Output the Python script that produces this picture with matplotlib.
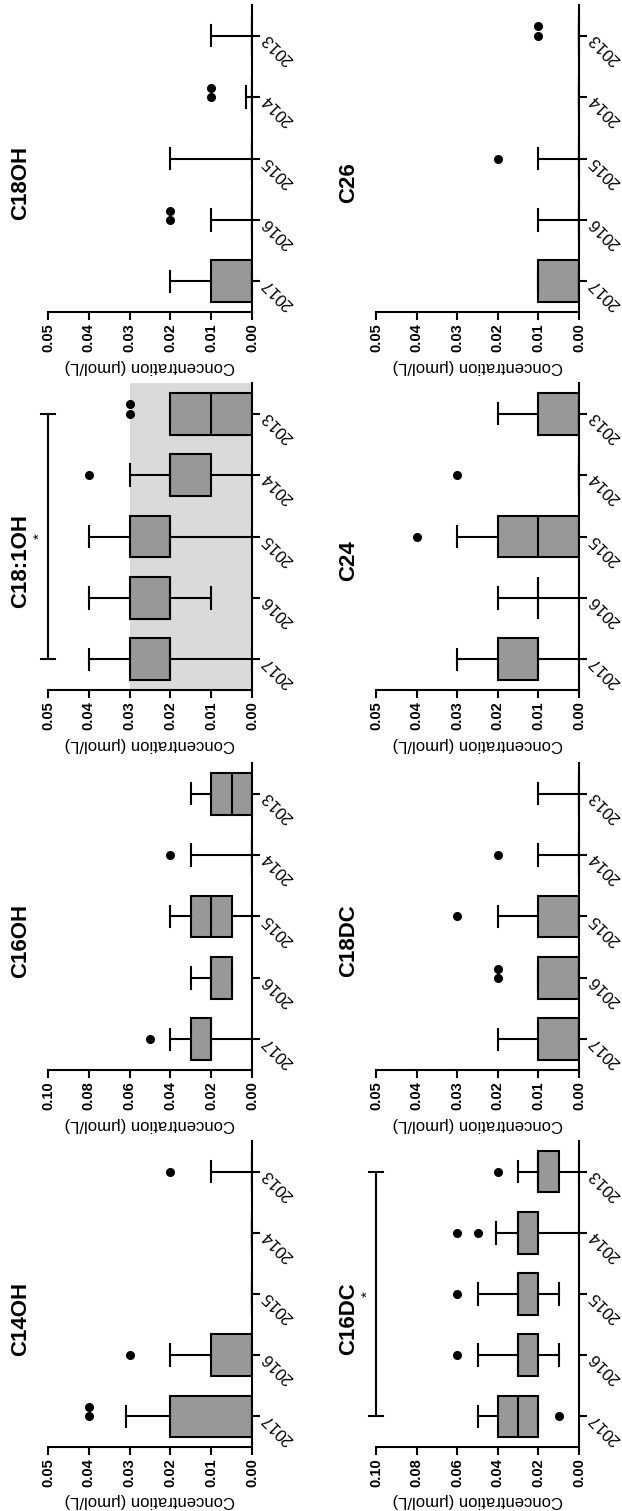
import matplotlib
matplotlib.use("Agg")
import matplotlib.pyplot as plt
from matplotlib.ticker import FormatStrFormatter

plt.rcParams["font.family"] = ["Liberation Sans", "DejaVu Sans"]
plt.rcParams["font.weight"] = "bold"

years = ["2017", "2016", "2015", "2014", "2013"]
ylabel = "Concentration (μmol/L)"

# box stats per year: whislo, q1, median, q3, whishi
c14oh = [[0, 0, 0, 0.02, 0.031], [0, 0, 0, 0.01, 0.02], [0, 0, 0, 0, 0],
         [0, 0, 0, 0, 0], [0, 0, 0, 0, 0.01]]
c14oh_out = [[0.04, 0.04], [0.03], [], [], [0.02]]

c16oh = [[0, 0.02, 0.02, 0.03, 0.04], [0.01, 0.01, 0.02, 0.02, 0.03],
         [0, 0.01, 0.02, 0.03, 0.04], [0, 0, 0, 0, 0.03], [0, 0, 0.01, 0.02, 0.03]]
c16oh_out = [[0.05], [], [], [0.04], []]

c181oh = [[0, 0.02, 0.02, 0.03, 0.04], [0.01, 0.02, 0.02, 0.03, 0.04],
          [0, 0.02, 0.02, 0.03, 0.04], [0, 0.01, 0.02, 0.02, 0.03], [0, 0, 0.01, 0.02, 0.02]]
c181oh_out = [[], [], [], [0.04], [0.03, 0.03]]

c18oh = [[0, 0, 0, 0.01, 0.02], [0, 0, 0, 0, 0.01], [0, 0, 0, 0, 0.02],
         [0, 0, 0, 0, 0.0015], [0, 0, 0, 0, 0.01]]
c18oh_out = [[], [0.02, 0.02], [], [0.01, 0.01], []]

c16dc = [[0.02, 0.02, 0.03, 0.04, 0.05], [0.01, 0.02, 0.03, 0.03, 0.05],
         [0.01, 0.02, 0.03, 0.03, 0.05], [0, 0.02, 0.03, 0.03, 0.041], [0, 0.01, 0.02, 0.02, 0.03]]
c16dc_out = [[0.01], [0.06], [0.06], [0.05, 0.06], [0.04]]

c18dc = [[0, 0, 0, 0.01, 0.02], [0, 0, 0, 0.01, 0.01], [0, 0, 0, 0.01, 0.02],
         [0, 0, 0, 0, 0.01], [0, 0, 0, 0, 0.01]]
c18dc_out = [[], [0.02, 0.02], [0.03], [0.02], []]

c24 = [[0, 0.01, 0.01, 0.02, 0.03], [0, 0.01, 0.01, 0.01, 0.02], [0, 0, 0.01, 0.02, 0.03],
       [0, 0, 0, 0, 0], [0, 0, 0, 0.01, 0.02]]
c24_out = [[], [], [0.04], [0.03], []]

c26 = [[0, 0, 0, 0.01, 0.01], [0, 0, 0, 0, 0.01], [0, 0, 0, 0, 0.01],
       [0, 0, 0, 0, 0], [0, 0, 0, 0, 0]]
c26_out = [[], [], [0.02], [], [0.01, 0.01]]

# reference range shading and significance bracket
c181oh_range = (0, 0.03)

BOX = "#97989a"
SHADE = "#d9dadc"
LW = 1.5

W, H = 622, 1511
col_x = [(48, 204), (376, 203)]
row_y = [(5, 307), (383, 307), (763, 307), (1141, 306)]


def make_ax(fig, col, row):
    x0, w = col_x[col]
    y0, h = row_y[row]
    return fig.add_axes([x0 / W, 1 - (y0 + h) / H, w / W, h / H])


def draw_panel(ax, name, stats, outliers, top, shade=None, sig=False):
    pos = list(range(1, len(years) + 1))
    if shade is not None:
        ax.axvspan(shade[0], shade[1], color=SHADE, zorder=0, lw=0)
    boxes = [dict(whislo=s[0], q1=s[1], med=s[2], q3=s[3], whishi=s[4], fliers=[])
             for s in stats]
    line = dict(color="black", linewidth=LW)
    ax.bxp(boxes, positions=pos, orientation="horizontal", widths=0.68, capwidths=0.35,
           patch_artist=True, showfliers=False,
           boxprops=dict(facecolor=BOX, edgecolor="black", linewidth=LW),
           medianprops=line, whiskerprops=line, capprops=line)
    for p, vals in zip(pos, outliers):
        seen = {}
        for v in vals:
            k = seen.get(v, 0)
            seen[v] = k + 1
            ax.plot(v, p + 0.15 * k, "o", color="black", ms=5.5, clip_on=False, zorder=5)

    ax.set_xlim(top, 0)
    ax.set_ylim(0.5, len(years) + 0.5)
    step = top / 5
    ax.set_xticks([step * i for i in range(6)])
    ax.xaxis.set_major_formatter(FormatStrFormatter("%.2f"))
    ax.tick_params(axis="x", length=6, width=LW, labelsize=10.5, pad=2, labelrotation=90)

    ax.yaxis.tick_right()
    ax.set_yticks(pos, years)
    ax.tick_params(axis="y", length=6, width=LW, labelsize=12, pad=3)
    for lbl in ax.get_yticklabels():
        lbl.set_rotation(135)
        lbl.set_rotation_mode("anchor")
        lbl.set_ha("right")
        lbl.set_va("center")
        lbl.set_fontweight("normal")

    for s in ["top", "left"]:
        ax.spines[s].set_visible(False)
    for s in ["bottom", "right"]:
        ax.spines[s].set_linewidth(LW)

    ax.set_xlabel(ylabel, rotation=180, fontsize=12)
    ax.xaxis.set_label_coords(0.5, -0.176)
    ax.xaxis.label.set_va("center")

    ax.text(-0.135, 0.42, name, rotation=90, transform=ax.transAxes,
            ha="center", va="center", fontsize=16, fontweight="bold")

    if sig:
        d = top * 0.035
        ax.plot([top, top], [pos[0], pos[-1]], color="black", lw=LW, clip_on=False)
        for p in (pos[0], pos[-1]):
            ax.plot([top - d, top + d], [p, p], color="black", lw=LW, clip_on=False)
        ax.annotate("*", xy=(top, pos[len(pos) // 2]), xytext=(-6, 0),
                    textcoords="offset points", rotation=90, ha="center", va="center",
                    fontsize=11, fontweight="normal", annotation_clip=False)


fig = plt.figure(figsize=(W / 100, H / 100), dpi=100)

draw_panel(make_ax(fig, 0, 0), "C18OH", c18oh, c18oh_out, 0.05)
draw_panel(make_ax(fig, 0, 1), "C18:1OH", c181oh, c181oh_out, 0.05, shade=c181oh_range, sig=True)
draw_panel(make_ax(fig, 0, 2), "C16OH", c16oh, c16oh_out, 0.10)
draw_panel(make_ax(fig, 0, 3), "C14OH", c14oh, c14oh_out, 0.05)
draw_panel(make_ax(fig, 1, 0), "C26", c26, c26_out, 0.05)
draw_panel(make_ax(fig, 1, 1), "C24", c24, c24_out, 0.05)
draw_panel(make_ax(fig, 1, 2), "C18DC", c18dc, c18dc_out, 0.05)
draw_panel(make_ax(fig, 1, 3), "C16DC", c16dc, c16dc_out, 0.10, sig=True)

fig.savefig("out.png", dpi=100)
plt.close(fig)
